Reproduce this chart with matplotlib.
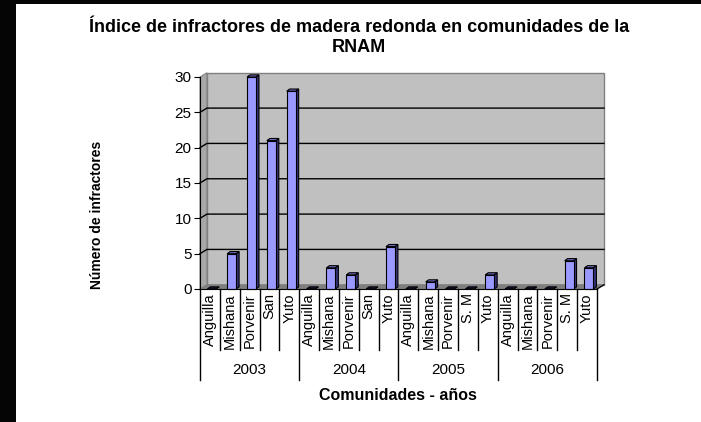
import matplotlib
matplotlib.use("Agg")
import matplotlib.pyplot as plt
from matplotlib.patches import Polygon, Rectangle
from matplotlib.transforms import blended_transform_factory

plt.rcParams['font.family'] = ['Liberation Sans', 'DejaVu Sans']

# Data
years = ["2003", "2004", "2005", "2006"]
communities = [
    ["Anguilla", "Mishana", "Porvenir", "San", "Yuto"],
    ["Anguilla", "Mishana", "Porvenir", "San", "Yuto"],
    ["Anguilla", "Mishana", "Porvenir", "S. M", "Yuto"],
    ["Anguilla", "Mishana", "Porvenir", "S. M", "Yuto"],
]
infractores = [
    [0, 5, 30, 21, 28],
    [0, 3, 2, 0, 6],
    [0, 1, 0, 0, 2],
    [0, 0, 0, 4, 3],
]
y_ticks = [0, 5, 10, 15, 20, 25, 30]

labels = [c for grp in communities for c in grp]
values = [v for grp in infractores for v in grp]
n = len(values)

W, H = 701, 422
fig = plt.figure(figsize=(W / 100, H / 100), dpi=100)
fig.patch.set_facecolor("white")

# black frame strips on the left and top
fig.add_artist(Rectangle((0, 0), 16 / W, 1, transform=fig.transFigure,
                         facecolor="#050505", edgecolor="none"))
fig.add_artist(Rectangle((0, 1 - 3.5 / H), 1, 3.5 / H, transform=fig.transFigure,
                         facecolor="#050505", edgecolor="none"))

x0p, x1p, ytop, ybot = 200, 597, 77, 289
ax = fig.add_axes([x0p / W, 1 - ybot / H, (x1p - x0p) / W, (ybot - ytop) / H])
ax.set_xlim(0, n)
ax.set_ylim(0, 30)
ax.patch.set_visible(False)
for s in ["top", "right"]:
    ax.spines[s].set_visible(False)
ax.spines["left"].set_color("black")
ax.spines["bottom"].set_color("black")
ax.spines["left"].set_zorder(6)
ax.spines["bottom"].set_zorder(6)

# depth of the 3-D walls in data units
dx, dy = 0.35, 0.6

wall = dict(clip_on=False, zorder=0.5)
# back wall
ax.add_patch(Polygon([(dx, dy), (n + dx, dy), (n + dx, 30 + dy), (dx, 30 + dy)],
                     closed=True, facecolor="#c0c0c0", edgecolor="#808080",
                     linewidth=1.0, **wall))
# left side wall
ax.add_patch(Polygon([(0, 0), (dx, dy), (dx, 30 + dy), (0, 30)],
                     closed=True, facecolor="#a8a8a8", edgecolor="#808080",
                     linewidth=0.8, **wall))
# floor
ax.add_patch(Polygon([(0, 0), (n, 0), (n + dx, dy), (dx, dy)],
                     closed=True, facecolor="#7f7f7f", edgecolor="#808080",
                     linewidth=0.8, **wall))
ax.plot([n, n + dx], [0, dy], color="black", lw=0.9, clip_on=False, zorder=6)

# gridlines on the walls
for v in y_ticks[1:-1]:
    ax.plot([0, dx, n + dx], [v, v + dy, v + dy], color="black", lw=1.0,
            clip_on=False, zorder=0.8)

# 3-D bars
off, bw = 0.37, 0.45
bdx, bdy = 0.15, 0.3
face, top_c, side_c = "#9999ff", "#6f6fc8", "#33337a"
for i, v in enumerate(values):
    xl = i + off
    xr = xl + bw
    if v > 0:
        ax.add_patch(Polygon([(xr, 0), (xr + bdx, bdy), (xr + bdx, v + bdy), (xr, v)],
                             closed=True, facecolor=side_c, edgecolor="black",
                             lw=0.8, zorder=3, clip_on=False))
        ax.add_patch(Rectangle((xl, 0), bw, v, facecolor=face, edgecolor="black",
                               lw=0.8, zorder=3, clip_on=False))
    ax.add_patch(Polygon([(xl, v), (xr, v), (xr + bdx, v + bdy), (xl + bdx, v + bdy)],
                         closed=True, facecolor=top_c if v > 0 else "#1a1a40",
                         edgecolor="black", lw=0.8, zorder=3, clip_on=False))

# y axis ticks
ax.set_yticks(y_ticks)
ax.tick_params(axis="y", direction="out", length=4, width=0.8, pad=2,
               labelsize=11, colors="black")

# category labels
ax.set_xticks([i + 0.5 for i in range(n)])
ax.set_xticklabels(labels, rotation=90, fontsize=10.5, va="top", ha="center")
ax.tick_params(axis="x", length=0, pad=3)

# category and year separators below the axis
tr = blended_transform_factory(ax.transData, fig.transFigure)
y_axis_f = 1 - ybot / H
y_cat_f = 1 - 350 / H
y_grp_f = 1 - 380 / H
for i in range(n + 1):
    is_group = (i % 5 == 0)
    ax.plot([i, i], [y_axis_f, y_grp_f if is_group else y_cat_f], color="black",
            lw=1.0, transform=tr, clip_on=False)
for g, yr in enumerate(years):
    ax.text(g * 5 + 2.5, 1 - 370 / H, yr, transform=tr, ha="center", va="center",
            fontsize=11)

# titles
fig.text(359 / W, 1 - 27 / H, "Índice de infractores de madera redonda en comunidades de la",
         ha="center", va="center", fontsize=13, fontweight="bold")
fig.text(359 / W, 1 - 48 / H, "RNAM", ha="center", va="center", fontsize=13,
         fontweight="bold")
fig.text(398 / W, 1 - 395 / H, "Comunidades - años", ha="center", va="center",
         fontsize=11.5, fontweight="bold")
fig.text(97 / W, 1 - 215 / H, "Número de infractores", ha="center", va="center",
         rotation=90, fontsize=10, fontweight="bold")

fig.savefig("out.png", dpi=100, facecolor="white")
